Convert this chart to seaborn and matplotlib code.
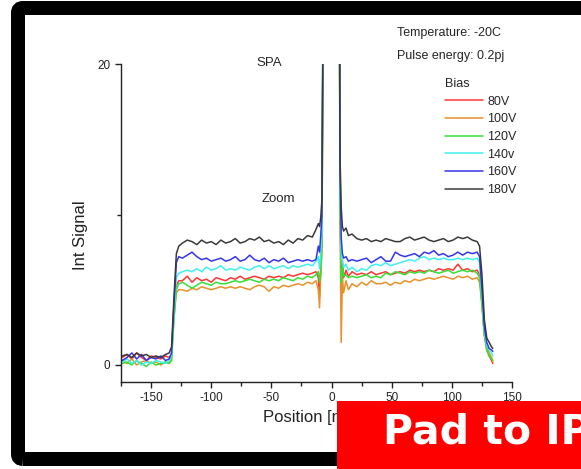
import pandas as pd
import numpy as np
import seaborn as sns
import matplotlib.pyplot as plt
from matplotlib.patches import FancyBboxPatch, Rectangle
from matplotlib.transforms import IdentityTransform

# Posizioni [nm] comuni a tutte le curve
position = [-174, -170, -166, -162, -158, -154, -150, -146, -142, -138, -135, -133,
            -131, -129, -127,
            -124, -120, -116, -112, -108, -104, -100, -96, -92, -88, -84, -80, -76, -72,
            -68, -64, -60, -56, -52, -48, -44, -40, -36, -32, -28, -24, -20, -16,
            -13, -11, -10, -9, -8,
            -6, 0, 6,
            7, 8, 9, 10, 12, 14,
            17, 21, 25, 29, 33, 37, 41, 45, 49, 53, 57, 61, 65, 69, 73, 77, 81, 85,
            89, 93, 97, 101, 105, 109, 113, 117, 121,
            123, 125, 127, 129, 131, 133, 134]

sig_80 = [0.5, 0.7, 0.4, 0.8, 0.5, 0.3, 0.6, 0.5, 0.4, 0.6, 0.5, 0.7,
          3.8, 5.3, 5.6,
          5.6, 5.9, 5.5, 5.8, 5.6, 5.7, 5.5, 5.8, 5.7, 5.6, 5.8, 5.7, 5.9, 5.7,
          5.8, 5.9, 5.8, 5.7, 5.9, 5.8, 5.9, 5.8, 6.0, 5.9, 6.0, 6.1, 6.0, 6.1,
          6.2, 5.8, 4.5, 6.5, 8.5,
          40, 40, 40,
          12, 4.5, 7.0, 5.8, 6.3, 5.9,
          6.2, 6.0, 6.1, 6.0, 6.2, 6.0, 6.1, 6.2, 6.0, 6.1, 6.2, 6.1, 6.3, 6.2, 6.3, 6.2, 6.3, 6.2,
          6.4, 6.3, 6.4, 6.3, 6.7, 6.3, 6.4, 6.2, 6.3,
          6.0, 4.2, 2.0, 1.0, 0.6, 0.3, 0.1]

sig_100 = [0.3, 0.1, 0.4, 0.0, 0.2, 0.3, 0.1, 0.2, 0.0, 0.2, 0.1, 0.4,
           3.2, 4.8, 5.0,
           5.0, 4.9, 5.1, 5.0, 5.2, 5.1, 5.0, 5.1, 5.2, 5.1, 5.2, 5.1, 5.2, 5.1,
           5.0, 5.2, 5.3, 5.2, 4.9, 5.2, 5.1, 5.3, 5.2, 5.3, 5.4, 5.3, 5.5, 5.4,
           5.6, 5.0, 3.8, 6.0, 7.5,
           40, 40, 40,
           10, 1.5, 5.8, 4.8, 5.6, 5.0,
           5.4, 5.2, 5.5, 5.3, 5.6, 5.4, 5.4, 5.5, 5.3, 5.5, 5.4, 5.6, 5.5, 5.7, 5.6, 5.7, 5.8, 5.7,
           5.8, 5.9, 5.8, 5.7, 5.9, 5.8, 5.9, 5.7, 5.8,
           5.5, 4.0, 2.0, 1.2, 0.8, 0.5, 0.2]

sig_120 = [0.1, 0.2, 0.0, 0.3, 0.1, -0.1, 0.2, 0.0, 0.1, 0.2, 0.1, 0.3,
           3.0, 5.0, 5.4,
           5.5, 5.3, 5.1, 5.3, 5.5, 5.4, 5.3, 5.5, 5.4, 5.4, 5.5, 5.6, 5.5, 5.6,
           5.7, 5.6, 5.5, 5.7, 5.6, 5.7, 5.6, 5.8, 5.7, 5.6, 5.8, 5.7, 5.9, 5.8,
           6.0, 6.2, 5.5, 6.2, 8.0,
           40, 40, 40,
           11, 5.5, 6.5, 5.9, 6.0, 5.8,
           5.9, 5.8, 5.9, 6.0, 5.8, 5.9, 5.8, 6.1, 6.0, 6.2, 6.1, 6.0, 6.2, 6.1, 6.2, 6.1, 6.3, 6.2,
           6.1, 6.2, 6.3, 6.1, 6.2, 6.3, 6.2, 6.3, 6.1,
           5.8, 4.0, 2.0, 1.0, 0.6, 0.4, 0.3]

sig_140 = [0.2, 0.4, 0.1, 0.3, 0.0, 0.2, 0.1, 0.3, 0.2, 0.1, 0.3, 0.6,
           3.5, 5.8, 6.1,
           6.2, 6.3, 6.2, 6.4, 6.2, 6.5, 6.3, 6.4, 6.6, 6.3, 6.4, 6.3, 6.5, 6.4,
           6.3, 6.5, 6.6, 6.4, 6.6, 6.4, 6.5, 6.6, 6.4, 6.6, 6.5, 6.6, 6.7, 6.6,
           6.9, 7.2, 6.4, 7.5, 9.0,
           40, 40, 40,
           12, 7.6, 6.8, 6.5, 6.7, 6.3,
           6.5, 6.2, 6.4, 6.3, 6.6, 6.7, 6.6, 6.8, 6.6, 6.7, 6.8, 6.9, 7.0, 6.9, 7.1, 7.2, 7.0, 7.1,
           7.0, 7.1, 7.0, 7.0, 7.1, 7.0, 7.1, 7.0, 7.1,
           6.8, 4.5, 2.2, 1.3, 1.0, 0.8, 0.6]

sig_160 = [0.3, 0.5, 0.8, 0.4, 0.7, 0.3, 0.5, 0.4, 0.6, 0.3, 0.4, 0.8,
           4.0, 6.8, 7.2,
           7.1, 7.3, 7.5, 7.2, 7.0, 7.1, 6.9, 7.0, 7.1, 6.9, 7.0, 7.2, 6.9, 7.0,
           7.3, 7.0, 6.9, 7.1, 6.8, 7.0, 6.9, 7.1, 6.8, 6.9, 7.0, 6.9, 7.0, 6.9,
           7.0, 7.9, 7.5, 8.6, 10.0,
           40, 40, 40,
           13, 8.5, 7.4, 7.1, 7.2, 6.9,
           7.0, 6.9, 7.0, 7.1, 6.8, 7.0, 7.2, 6.9, 6.9, 7.5, 7.3, 7.2, 7.3, 7.4, 7.2, 7.5, 7.4, 7.6,
           7.3, 7.4, 7.2, 7.3, 7.5, 7.3, 7.5, 7.4, 7.5,
           7.2, 5.0, 2.5, 1.5, 1.1, 1.0, 0.9]

sig_180 = [0.6, 0.7, 0.5, 0.8, 0.6, 0.7, 0.5, 0.6, 0.5, 0.7, 0.8, 1.2,
           4.5, 7.4, 7.9,
           8.1, 8.3, 8.2, 8.0, 8.3, 8.1, 8.2, 8.0, 8.3, 8.1, 8.2, 8.4, 8.1, 8.2,
           8.4, 8.3, 8.5, 8.2, 8.3, 8.1, 8.2, 8.0, 8.3, 8.1, 8.4, 8.3, 8.6, 8.5,
           9.0, 9.4, 9.2, 9.8, 11.0,
           40, 40, 40,
           14, 10.5, 9.2, 8.9, 9.1, 8.6,
           8.7, 8.4, 8.3, 8.4, 8.2, 8.3, 8.2, 8.4, 8.3, 8.2, 8.2, 8.4, 8.5, 8.3, 8.4, 8.5, 8.3, 8.2,
           8.3, 8.4, 8.2, 8.3, 8.5, 8.4, 8.5, 8.3, 8.2,
           7.9, 6.0, 3.0, 1.8, 1.5, 1.2, 1.1]

bias = ["80V", "100V", "120V", "140v", "160V", "180V"]
colori = ["#ff3535", "#e8902a", "#35e035", "#40f0f0", "#3535ee", "#3a3a3a"]

# Costruzione del dataframe in formato lungo
frames = []
for b, s in zip(bias, [sig_80, sig_100, sig_120, sig_140, sig_160, sig_180]):
    frames.append(pd.DataFrame({"Position": position, "Signal": s, "Bias": b}))
df = pd.concat(frames, ignore_index=True)

sns.set_style("ticks")
plt.rcParams['font.family'] = ['Liberation Sans', 'DejaVu Sans']
plt.rcParams['axes.unicode_minus'] = False

fig = plt.figure(figsize=(5.81, 4.69), dpi=100)
ax = fig.add_axes([0.2083, 0.1855, 0.673, 0.678])

sns.lineplot(data=df, x="Position", y="Signal", hue="Bias", hue_order=bias,
             palette=dict(zip(bias, colori)), estimator=None, sort=False,
             linewidth=1.1, ax=ax)

ax.set_xlim(-175, 150)
ax.set_ylim(-1.13, 20)
ax.set_xticks(range(-150, 151, 50))
ax.set_xticks(range(-175, 150, 50), minor=True)
ax.set_yticks([0, 20])
ax.set_yticks([10], minor=True)
ax.tick_params(which='both', direction='out', length=4, width=1, labelsize=8.5,
               colors='#222222')
ax.tick_params(which='minor', length=3)
sns.despine(ax=ax)
for sp in ["left", "bottom"]:
    ax.spines[sp].set_linewidth(1.0)
    ax.spines[sp].set_color('#222222')

ax.set_xlabel("Position [nm]", fontsize=12, color='#222222')
ax.set_ylabel("Int Signal", fontsize=12, color='#222222')
ax.xaxis.set_label_coords(0.486, -0.088)
ax.yaxis.set_label_coords(-0.084, 0.462)

# Annotazioni
ax.text(-51.7, 20.1, "SPA", ha='center', va='center', fontsize=9.5, clip_on=False)
ax.text(-44, 11.0, "Zoom", ha='center', va='center', fontsize=9.5)
fig.text(0.683, 0.9296, "Temperature: -20C", va='center', fontsize=9)
fig.text(0.683, 0.8806, "Pulse energy: 0.2pj", va='center', fontsize=9)

sns.move_legend(ax, "upper left", bbox_to_anchor=(439 / 581, 1 - 72 / 469),
                bbox_transform=fig.transFigure, frameon=False, title="Bias",
                fontsize=9, title_fontsize=9, handlelength=3.0, handletextpad=0.35,
                labelspacing=0.45, borderpad=0, alignment='left')

# Cornice nera e riquadro rosso
cornice = FancyBboxPatch((18, 10), 582, 451, boxstyle="round,pad=0,rounding_size=5",
                         transform=IdentityTransform(), fill=False, edgecolor='black',
                         linewidth=10.08)
fig.add_artist(cornice)
riquadro = Rectangle((337, 0), 250, 68, transform=IdentityTransform(),
                     facecolor='#ff0000', edgecolor='none', zorder=5)
fig.add_artist(riquadro)
fig.text(383, 26, "Pad to IP", transform=IdentityTransform(), color='white',
         fontsize=29.5, fontweight='bold', family=['DejaVu Sans'],
         va='baseline', ha='left', zorder=6)

plt.savefig("out.png", dpi=100)
